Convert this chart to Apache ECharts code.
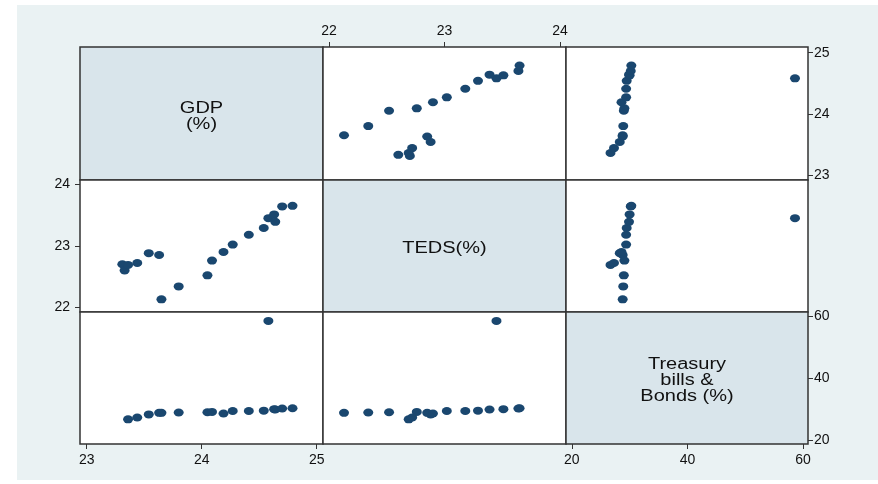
<!DOCTYPE html>
<html>
<head>
<meta charset="utf-8">
<script src="https://cdn.jsdelivr.net/npm/echarts@6/dist/echarts.min.js"></script>
<style>
  html, body { margin: 0; padding: 0; background: #ffffff; }
  #chart { width: 878px; height: 484px; }
</style>
</head>
<body>
<div id="chart"></div>
<script>
// One row per year: GDP, TEDS and Treasury bills & bonds (all in %).
// Treasury is missing for the first two years.
const gdp    = [23.31, 23.33, 23.36, 23.44, 23.54, 23.63, 23.65, 23.80, 24.05, 24.09,
                24.19, 24.27, 24.41, 24.54, 24.58, 24.63, 24.64, 24.70, 24.79];
const teds   = [22.70, 22.60, 22.69, 22.72, 22.88, 22.85, 22.13, 22.34, 22.52, 22.76,
                22.90, 23.02, 23.18, 23.29, 23.45, 23.51, 23.39, 23.64, 23.65];
const tbills = [null, null, 26.7, 27.3, 28.3, 28.8, 28.8, 28.9, 29.0, 29.1,
                28.6, 29.4, 29.4, 29.5, 58.6, 30.0, 29.9, 30.2, 30.3];

const varLabels = ['GDP\n(%)', 'TEDS(%)', 'Treasury\nbills &\nBonds (%)'];
const gdpTicks = [23, 24, 25];
const tedsTicks = [22, 23, 24];
const tbillTicks = [20, 40, 60];

const vars = [gdp, teds, tbills];
const ticks = [gdpTicks, tedsTicks, tbillTicks];

// axis extents per variable, as drawn across columns (x) and rows (y)
const colRange = [[22.942, 25.055], [21.948, 24.052], [19.0, 60.85]];
const rowRange = [[22.918, 25.093], [21.924, 24.07], [18.7, 61.5]];

// cell edges in pixels
const colEdges = [80, 323, 566, 808];
const rowEdges = [47, 180, 312, 444];

const FONT = 'Liberation Sans, Arial, sans-serif';
const MARK = '#1a476f';
const DIAG_BG = '#d9e5eb';
const FRAME = '#333333';

// outer axes alternate sides: labelled x axes top/bottom, y axes left/right
function xPos(r, c) {
  if (r === 0 && c === 1) return 'top';
  if (r === 2 && (c === 0 || c === 2)) return 'bottom';
  return null;
}
function yPos(r, c) {
  if (c === 2 && (r === 0 || r === 2)) return 'right';
  if (c === 0 && r === 1) return 'left';
  return null;
}

const grids = [], xAxes = [], yAxes = [], series = [], graphics = [];

for (let r = 0; r < 3; r++) {
  for (let c = 0; c < 3; c++) {
    const gi = grids.length;
    const diag = r === c;
    grids.push({
      left: colEdges[c], top: rowEdges[r],
      width: colEdges[c + 1] - colEdges[c],
      height: rowEdges[r + 1] - rowEdges[r],
      show: true,
      backgroundColor: diag ? DIAG_BG : '#ffffff',
      borderColor: FRAME, borderWidth: 1.5,
      containLabel: false,
      outerBoundsMode: 'none'
    });
    const xp = xPos(r, c);
    const yp = yPos(r, c);
    xAxes.push({
      type: 'value', gridIndex: gi,
      min: colRange[c][0], max: colRange[c][1],
      position: xp || 'bottom',
      axisLine: { show: false },
      splitLine: { show: false },
      axisTick: { show: !!xp, inside: false, length: 5,
                  lineStyle: { color: '#333', width: 1 }, customValues: ticks[c] },
      axisLabel: { show: !!xp, customValues: ticks[c], margin: 9,
                   color: '#111', fontSize: 14, fontFamily: FONT }
    });
    yAxes.push({
      type: 'value', gridIndex: gi,
      min: rowRange[r][0], max: rowRange[r][1],
      position: yp || 'left',
      axisLine: { show: false },
      splitLine: { show: false },
      axisTick: { show: !!yp, inside: false, length: 5,
                  lineStyle: { color: '#333', width: 1 }, customValues: ticks[r] },
      axisLabel: { show: !!yp, customValues: ticks[r], margin: yp === 'left' ? 10 : 6,
                   color: '#111', fontSize: 14, fontFamily: FONT }
    });
    if (diag) {
      // variable name, set in a slightly widened face
      graphics.push({
        type: 'text',
        x: (colEdges[c] + colEdges[c + 1]) / 2,
        y: (rowEdges[r] + rowEdges[r + 1]) / 2 + 3,
        scaleX: 1.25,
        style: {
          text: varLabels[r], fill: '#111', font: '16px ' + FONT,
          align: 'center', verticalAlign: 'middle', lineHeight: 16
        }
      });
    } else {
      const xs = vars[c], ys = vars[r];
      const pts = [];
      for (let i = 0; i < xs.length; i++) {
        if (xs[i] != null && ys[i] != null) pts.push([xs[i], ys[i]]);
      }
      series.push({
        type: 'scatter', xAxisIndex: gi, yAxisIndex: gi,
        data: pts, symbol: 'circle', symbolSize: [10, 8],
        itemStyle: { color: MARK, opacity: 1 },
        silent: true, animation: false
      });
    }
  }
}

// light panel behind the whole matrix
graphics.unshift({
  type: 'rect', z: -10, silent: true,
  shape: { x: 17, y: 5, width: 861, height: 475 },
  style: { fill: '#eaf2f3' }
});

const chart = echarts.init(document.getElementById('chart'), null, { renderer: 'canvas' });
chart.setOption({
  animation: false,
  backgroundColor: '#ffffff',
  grid: grids,
  xAxis: xAxes,
  yAxis: yAxes,
  series: series,
  graphic: graphics
});
</script>
</body>
</html>
